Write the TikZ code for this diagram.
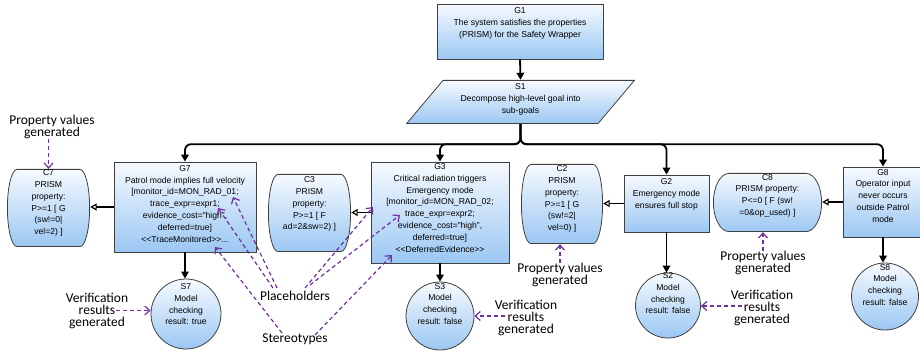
\documentclass[tikz,border=0pt]{standalone}
\usepackage{fontspec}
\setmainfont{Liberation Sans}
\newfontfamily\annfont{Carlito}
\usetikzlibrary{arrows.meta,calc}
\definecolor{gTop}{RGB}{246,250,254}
\definecolor{gBot}{RGB}{155,199,243}
\definecolor{bLine}{RGB}{64,64,64}
\definecolor{annc}{RGB}{112,48,160}
\newcommand{\nt}[2]{\raisebox{\dimexpr#1-2.15pt\relax}[0pt][0pt]{\makebox[0pt]{\fontsize{8.6}{11.8}\selectfont\begin{tabular}{@{}c@{}}#2\end{tabular}}}}
\tikzset{
  gfill/.style={top color=gTop, bottom color=gBot},
  bline/.style={draw=bLine, line width=0.8pt},
  gbox/.style={rectangle, gfill, bline, inner sep=0pt},
  sbox/.style={circle, gfill, bline, inner sep=0pt},
  capsule/.style={rectangle, inner sep=0pt, path picture={
    \path[gfill, bline] let \p1=(path picture bounding box.north west),
      \p2=(path picture bounding box.south east),
      \n1={(\y1-\y2)/2-0.4pt} in
      (\x1+#1,\y1-0.4pt) -- (\x2-#1,\y1-0.4pt)
      arc[start angle=90, end angle=-90, x radius=#1-0.4pt, y radius=\n1]
      -- (\x1+#1,\y2+0.4pt)
      arc[start angle=270, end angle=90, x radius=#1-0.4pt, y radius=\n1] -- cycle;
  }},
  pgram/.style={rectangle, inner sep=0pt, path picture={
    \path[gfill, bline] let \p1=(path picture bounding box.north west),
      \p2=(path picture bounding box.south east) in
      (\x1+37pt,\y1-0.4pt) -- (\x2-0.6pt,\y1-0.4pt) -- (\x2-37pt,\y2+0.4pt) -- (\x1+0.6pt,\y2+0.4pt) -- cycle;
  }},
  annot/.style={font=\annfont\fontsize{13.5pt}{12pt}\selectfont, align=center, inner sep=0pt},
  trunk/.style={draw=black, line width=1.8pt, rounded corners=6pt, -{Triangle[length=7pt,width=7.5pt]}},
  garrow/.style={draw=black, line width=1.5pt, -{Triangle[length=7pt,width=7.5pt]}},
  carrow/.style={draw=black, line width=1.5pt, -{Triangle[open,length=6.5pt,width=7pt,line width=1.2pt]}},
  annarrow/.style={draw=annc, line width=1.2pt, dash pattern=on 4pt off 3pt, -{Straight Barb[length=5pt,width=9pt,line width=1.2pt]}}
}
\begin{document}
\begin{tikzpicture}[x=1pt,y=-1pt]
\useasboundingbox (0,0) rectangle (920,352);
% goals and strategy
\node[gbox, minimum width=166pt, minimum height=55pt] (g1) at (520,31.5) {\nt{8.5pt}{G1\\The system satisfies the properties\\(PRISM) for the Safety Wrapper}};
\node[pgram, minimum width=229pt, minimum height=44pt] (s1) at (520.5,102) {\nt{2.5pt}{S1\\Decompose high-level goal into\\sub-goals}};
\node[gbox, minimum width=142pt, minimum height=90pt] (g7) at (185,207) {\nt{2.5pt}{G7\\Patrol mode implies full velocity\\{[}monitor\_id=MON\_RAD\_01;\\trace\_expr=expr1;\\evidence\_cost="high",\\deferred=true]\\<{}<TraceMonitored>{}>...}};
\node[gbox, minimum width=138pt, minimum height=101pt] (g3) at (440,212.5) {\nt{4pt}{G3\\Critical radiation triggers\\Emergency mode\\{[}monitor\_id=MON\_RAD\_02;\\trace\_expr=expr2;\\evidence\_cost="high",\\deferred=true]\\<{}<DeferredEvidence>{}>}};
\node[gbox, minimum width=85pt, minimum height=57pt] (g2) at (666.5,203.5) {\nt{9pt}{G2\\Emergency mode\\ensures full stop}};
\node[gbox, minimum width=80pt, minimum height=70pt] (g8) at (883,202) {\nt{5.5pt}{G8\\Operator input\\never occurs\\outside Patrol\\mode}};
% contexts
\node[capsule=10pt, minimum width=83pt, minimum height=78pt] (c7) at (48.5,208) {\nt{5pt}{C7\\PRISM\\property:\\P>=1 [ G\\(sw!=0|\\vel=2) ]}};
\node[capsule=10pt, minimum width=83pt, minimum height=78pt] (c3) at (309.5,213) {\nt{9pt}{C3\\PRISM\\property:\\P>=1 [ F\\ad=2\&sw=2) ]}};
\node[capsule=10pt, minimum width=82pt, minimum height=80pt] (c2) at (562,204) {\nt{5pt}{C2\\PRISM\\property:\\P>=1 [ G\\(sw!=2|\\vel=0) ]}};
\node[capsule=16pt, minimum width=109pt, minimum height=59pt] (c8) at (767.5,202.5) {\nt{7pt}{C8\\PRISM property:\\P<=0 [ F (sw!\\=0\&op\_used) ]}};
% solutions
\node[sbox, minimum size=70pt] (s7) at (186,314) {\nt{9pt}{S7\\Model\\checking\\result: true}};
\node[sbox, minimum size=68pt] (s3) at (440,316) {\nt{11.5pt}{S3\\Model\\checking\\result: false}};
\node[sbox, minimum size=65pt] (s2) at (668,305.5) {\nt{11.5pt}{S2\\Model\\checking\\result: false}};
\node[sbox, minimum size=67pt] (s8) at (885,296.5) {\nt{11pt}{S8\\Model\\checking\\result: false}};
% annotations
\node[annot] (pv7) at (52,126.5) {Property values\\generated};
\node[annot] (vr7) at (97,310.5) {Verification\\results\\generated};
\node[annot] (ph) at (295,296) {Placeholders};
\node[annot] (st) at (295,339) {Stereotypes};
\node[annot] (vr3) at (526,318) {Verification\\results\\generated};
\node[annot] (pv2) at (560,275) {Property values\\generated};
\node[annot] (vr2) at (762,308) {Verification\\results\\generated};
\node[annot] (pv8) at (763,263) {Property values\\generated};
% main connectors
\draw[garrow, line width=1.8pt] (g1.south) -- (s1.north);
\draw[trunk] (s1.south) -- ++(0,20) -| (g7.north);
\draw[trunk] (s1.south) -- ++(0,20) -| (g3.north);
\draw[trunk] (s1.south) -- ++(0,20) -| (g2.north);
\draw[trunk] (s1.south) -- ++(0,20) -| (g8.north);
\draw[carrow] (g7.west) -- (g7.west -| c7.east);
\draw[carrow] (g3.west) -- (g3.west -| c3.east);
\draw[carrow] (g2.west) -- (g2.west -| c2.east);
\draw[carrow] (g8.west) -- (g8.west -| c8.east);
\draw[garrow] (g7.south) -- (g7.south |- s7.north);
\draw[garrow] (g3.south) -- (s3.north);
\draw[garrow] (g2.south) -- (g2.south |- s2.north);
\draw[garrow] (g8.south) -- (g8.south |- s8.north);
% annotation arrows
\draw[annarrow] (c7.north |- pv7.south) -- (c7.north);
\coordinate (vr7a) at ($(vr7.center)+(19,0)$);
\draw[annarrow] (vr7a) -- (vr7a -| s7.west);
\coordinate (vr3a) at ($(vr3.center)+(-21,-2)$);
\draw[annarrow] (vr3a) -- (vr3a -| s3.east);
\coordinate (vr2a) at ($(vr2.center)+(-20,-2)$);
\draw[annarrow] (vr2a) -- (vr2a -| s2.east);
\draw[annarrow] (pv2.north) -- (pv2.north |- c2.south);
\draw[annarrow] (pv8.north) -- (pv8.north |- c8.south);
% placeholder and stereotype pointers
\coordinate (tg7a) at ($(g7.center)+(48,-10)$);
\coordinate (tg7b) at ($(g7.center)+(33,1)$);
\coordinate (tg7c) at ($(g7.center)+(30,40)$);
\coordinate (tg3a) at ($(g3.center)+(-67,-5.5)$);
\coordinate (tg3b) at ($(g3.center)+(-40,2.5)$);
\coordinate (tg3c) at ($(g3.center)+(-48,42.5)$);
\draw[annarrow] ($(ph.center)+(-18,-8)$) -- (tg7a);
\draw[annarrow] ($(ph.center)+(-22,-8)$) -- (tg7b);
\draw[annarrow] ($(ph.center)+(10,-8)$) -- (tg3a);
\draw[annarrow] ($(ph.center)+(15,-11)$) -- (tg3b);
\draw[annarrow] ($(st.center)+(-13,-6)$) -- (tg7c);
\draw[annarrow] ($(st.center)+(20,-4)$) -- (tg3c);
\end{tikzpicture}
\end{document}
